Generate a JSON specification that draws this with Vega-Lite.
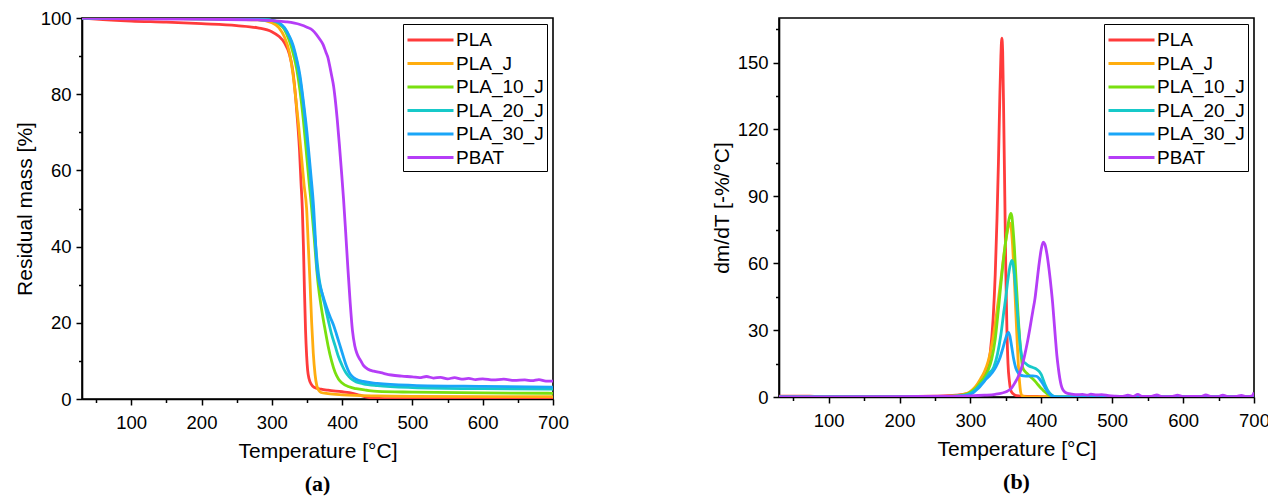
{
"$schema": "https://vega.github.io/schema/vega-lite/v6.json",
"background": "white",
"padding": {"left": 13, "top": 8, "right": 0, "bottom": 0},
"spacing": 140,
"resolve": {"legend": {"color": "independent"}},
"config": {
  "view": {"stroke": "black", "strokeWidth": 1.6},
  "axis": {"domainColor": "black", "domainWidth": 1.6, "tickColor": "black", "tickWidth": 1.5, "labelFont": "Liberation Sans", "labelFontSize": 18.5, "labelColor": "black", "titleFont": "Liberation Sans", "titleFontSize": 21, "titleFontWeight": "normal", "titleColor": "black", "grid": false, "labelPadding": 5, "titlePadding": 5, "labelOverlap": false},
  "axisX": {"labelPadding": 8, "titlePadding": 9, "labelFlush": false},
  "legend": {"labelFont": "Liberation Sans", "labelFontSize": 19, "labelColor": "black", "symbolType": "M-1,0H3", "symbolSize": 529, "symbolStrokeWidth": 3, "strokeColor": "black", "padding": 3, "rowPadding": 0.5, "labelOffset": 24, "offset": 6}
},
"datasets": {
"tga": [
{"s":"PLA","T":30,"m":100},{"s":"PLA","T":50,"m":99.7},{"s":"PLA","T":100,"m":99.2},{"s":"PLA","T":150,"m":98.9},{"s":"PLA","T":200,"m":98.5},{"s":"PLA","T":250,"m":98.0},{"s":"PLA","T":280,"m":97.4},{"s":"PLA","T":300,"m":96.4},{"s":"PLA","T":310,"m":95.2},{"s":"PLA","T":318,"m":93.5},{"s":"PLA","T":325,"m":90.5},{"s":"PLA","T":330,"m":86},{"s":"PLA","T":334,"m":79},{"s":"PLA","T":337,"m":72},{"s":"PLA","T":339.5,"m":65},{"s":"PLA","T":341.5,"m":57},{"s":"PLA","T":343.4,"m":50},{"s":"PLA","T":345,"m":40},{"s":"PLA","T":346.5,"m":28},{"s":"PLA","T":348,"m":18},{"s":"PLA","T":349.5,"m":11.5},{"s":"PLA","T":351,"m":7.5},{"s":"PLA","T":353,"m":5.3},{"s":"PLA","T":356,"m":3.9},{"s":"PLA","T":360,"m":3.1},{"s":"PLA","T":370,"m":2.6},{"s":"PLA","T":380,"m":2.3},{"s":"PLA","T":400,"m":1.9},{"s":"PLA","T":415,"m":1.5},{"s":"PLA","T":425,"m":1.0},{"s":"PLA","T":435,"m":0.5},{"s":"PLA","T":445,"m":0.2},{"s":"PLA","T":460,"m":0.1},{"s":"PLA","T":700,"m":0.1},
{"s":"PLA_J","T":30,"m":100},{"s":"PLA_J","T":100,"m":99.9},{"s":"PLA_J","T":200,"m":99.8},{"s":"PLA_J","T":280,"m":99.5},{"s":"PLA_J","T":300,"m":98.8},{"s":"PLA_J","T":310,"m":97.5},{"s":"PLA_J","T":318,"m":95},{"s":"PLA_J","T":325,"m":91},{"s":"PLA_J","T":330,"m":85.5},{"s":"PLA_J","T":334,"m":79},{"s":"PLA_J","T":338,"m":72},{"s":"PLA_J","T":342,"m":64},{"s":"PLA_J","T":346,"m":56},{"s":"PLA_J","T":349.5,"m":50},{"s":"PLA_J","T":352,"m":40},{"s":"PLA_J","T":354.5,"m":30},{"s":"PLA_J","T":356.7,"m":20},{"s":"PLA_J","T":359,"m":12},{"s":"PLA_J","T":361.5,"m":6.5},{"s":"PLA_J","T":364,"m":3.5},{"s":"PLA_J","T":367,"m":2.2},{"s":"PLA_J","T":370,"m":1.7},{"s":"PLA_J","T":380,"m":1.4},{"s":"PLA_J","T":400,"m":1.1},{"s":"PLA_J","T":450,"m":0.8},{"s":"PLA_J","T":500,"m":0.7},{"s":"PLA_J","T":700,"m":0.6},
{"s":"PLA_10_J","T":30,"m":100},{"s":"PLA_10_J","T":100,"m":99.9},{"s":"PLA_10_J","T":200,"m":99.8},{"s":"PLA_10_J","T":280,"m":99.6},{"s":"PLA_10_J","T":300,"m":99.3},{"s":"PLA_10_J","T":310,"m":98.5},{"s":"PLA_10_J","T":318,"m":97},{"s":"PLA_10_J","T":325,"m":94},{"s":"PLA_10_J","T":330,"m":91},{"s":"PLA_10_J","T":335,"m":87},{"s":"PLA_10_J","T":340,"m":81},{"s":"PLA_10_J","T":345,"m":73},{"s":"PLA_10_J","T":350,"m":63},{"s":"PLA_10_J","T":353.5,"m":56},{"s":"PLA_10_J","T":356.7,"m":50},{"s":"PLA_10_J","T":360,"m":43},{"s":"PLA_10_J","T":363,"m":36},{"s":"PLA_10_J","T":366,"m":30},{"s":"PLA_10_J","T":370,"m":24.5},{"s":"PLA_10_J","T":375,"m":19},{"s":"PLA_10_J","T":380,"m":14},{"s":"PLA_10_J","T":385,"m":10},{"s":"PLA_10_J","T":390,"m":7},{"s":"PLA_10_J","T":395,"m":5.2},{"s":"PLA_10_J","T":400,"m":4.2},{"s":"PLA_10_J","T":410,"m":3.2},{"s":"PLA_10_J","T":420,"m":2.7},{"s":"PLA_10_J","T":435,"m":2.3},{"s":"PLA_10_J","T":450,"m":2.0},{"s":"PLA_10_J","T":500,"m":1.8},{"s":"PLA_10_J","T":600,"m":1.6},{"s":"PLA_10_J","T":700,"m":1.5},
{"s":"PLA_20_J","T":30,"m":100},{"s":"PLA_20_J","T":100,"m":99.9},{"s":"PLA_20_J","T":200,"m":99.8},{"s":"PLA_20_J","T":280,"m":99.6},{"s":"PLA_20_J","T":300,"m":99.4},{"s":"PLA_20_J","T":310,"m":98.7},{"s":"PLA_20_J","T":318,"m":97.3},{"s":"PLA_20_J","T":325,"m":95},{"s":"PLA_20_J","T":330,"m":92.5},{"s":"PLA_20_J","T":335,"m":89},{"s":"PLA_20_J","T":340,"m":84},{"s":"PLA_20_J","T":345,"m":77},{"s":"PLA_20_J","T":350,"m":68},{"s":"PLA_20_J","T":354,"m":60},{"s":"PLA_20_J","T":358,"m":50},{"s":"PLA_20_J","T":361,"m":43},{"s":"PLA_20_J","T":364,"m":37},{"s":"PLA_20_J","T":367,"m":32},{"s":"PLA_20_J","T":371,"m":28},{"s":"PLA_20_J","T":375,"m":25},{"s":"PLA_20_J","T":380.5,"m":20.5},{"s":"PLA_20_J","T":385,"m":17},{"s":"PLA_20_J","T":390,"m":14},{"s":"PLA_20_J","T":395,"m":11},{"s":"PLA_20_J","T":400,"m":8.8},{"s":"PLA_20_J","T":405,"m":7},{"s":"PLA_20_J","T":410,"m":5.8},{"s":"PLA_20_J","T":415,"m":5.0},{"s":"PLA_20_J","T":420,"m":4.5},{"s":"PLA_20_J","T":430,"m":4.0},{"s":"PLA_20_J","T":450,"m":3.5},{"s":"PLA_20_J","T":500,"m":3.0},{"s":"PLA_20_J","T":600,"m":2.7},{"s":"PLA_20_J","T":700,"m":2.6},
{"s":"PLA_30_J","T":30,"m":100},{"s":"PLA_30_J","T":100,"m":99.9},{"s":"PLA_30_J","T":200,"m":99.8},{"s":"PLA_30_J","T":280,"m":99.6},{"s":"PLA_30_J","T":300,"m":99.4},{"s":"PLA_30_J","T":310,"m":98.8},{"s":"PLA_30_J","T":318,"m":97.5},{"s":"PLA_30_J","T":325,"m":95.2},{"s":"PLA_30_J","T":330,"m":93},{"s":"PLA_30_J","T":335,"m":89.5},{"s":"PLA_30_J","T":340,"m":85},{"s":"PLA_30_J","T":345,"m":78},{"s":"PLA_30_J","T":350,"m":70},{"s":"PLA_30_J","T":355,"m":60},{"s":"PLA_30_J","T":359.6,"m":50},{"s":"PLA_30_J","T":362,"m":42},{"s":"PLA_30_J","T":364,"m":35},{"s":"PLA_30_J","T":367,"m":31},{"s":"PLA_30_J","T":372,"m":27.5},{"s":"PLA_30_J","T":378,"m":24},{"s":"PLA_30_J","T":383,"m":21.5},{"s":"PLA_30_J","T":387.6,"m":19.5},{"s":"PLA_30_J","T":392,"m":17},{"s":"PLA_30_J","T":397,"m":14},{"s":"PLA_30_J","T":402,"m":11},{"s":"PLA_30_J","T":406,"m":8.7},{"s":"PLA_30_J","T":410,"m":7.0},{"s":"PLA_30_J","T":414,"m":6.0},{"s":"PLA_30_J","T":420,"m":5.2},{"s":"PLA_30_J","T":430,"m":4.6},{"s":"PLA_30_J","T":450,"m":4.1},{"s":"PLA_30_J","T":500,"m":3.6},{"s":"PLA_30_J","T":600,"m":3.3},{"s":"PLA_30_J","T":700,"m":3.1},
{"s":"PBAT","T":30,"m":100},{"s":"PBAT","T":100,"m":99.8},{"s":"PBAT","T":200,"m":99.7},{"s":"PBAT","T":280,"m":99.5},{"s":"PBAT","T":300,"m":99.3},{"s":"PBAT","T":320,"m":99},{"s":"PBAT","T":340,"m":98.3},{"s":"PBAT","T":350,"m":97.6},{"s":"PBAT","T":358,"m":96.8},{"s":"PBAT","T":363,"m":95.8},{"s":"PBAT","T":368,"m":94.5},{"s":"PBAT","T":373,"m":93},{"s":"PBAT","T":377,"m":91},{"s":"PBAT","T":380,"m":89.5},{"s":"PBAT","T":382,"m":87.8},{"s":"PBAT","T":385,"m":85},{"s":"PBAT","T":388,"m":82},{"s":"PBAT","T":390,"m":79},{"s":"PBAT","T":393,"m":73.5},{"s":"PBAT","T":396,"m":67},{"s":"PBAT","T":399,"m":60},{"s":"PBAT","T":402,"m":52.6},{"s":"PBAT","T":405,"m":44},{"s":"PBAT","T":408,"m":35},{"s":"PBAT","T":411.4,"m":25.5},{"s":"PBAT","T":414.7,"m":18},{"s":"PBAT","T":418,"m":14},{"s":"PBAT","T":421,"m":12},{"s":"PBAT","T":424,"m":10.8},{"s":"PBAT","T":426,"m":10.2},{"s":"PBAT","T":430,"m":8.9},{"s":"PBAT","T":437,"m":7.8},{"s":"PBAT","T":445,"m":7.3},{"s":"PBAT","T":455,"m":6.9},{"s":"PBAT","T":470,"m":6.3},{"s":"PBAT","T":485,"m":6.0},{"s":"PBAT","T":500,"m":5.8},{"s":"PBAT","T":510,"m":5.6},{"s":"PBAT","T":520,"m":5.9},{"s":"PBAT","T":530,"m":5.5},{"s":"PBAT","T":540,"m":5.7},{"s":"PBAT","T":550,"m":5.3},{"s":"PBAT","T":560,"m":5.6},{"s":"PBAT","T":570,"m":5.2},{"s":"PBAT","T":580,"m":5.4},{"s":"PBAT","T":590,"m":5.1},{"s":"PBAT","T":600,"m":5.3},{"s":"PBAT","T":615,"m":5.0},{"s":"PBAT","T":630,"m":5.2},{"s":"PBAT","T":645,"m":4.9},{"s":"PBAT","T":660,"m":5.0},{"s":"PBAT","T":670,"m":4.8},{"s":"PBAT","T":680,"m":5.1},{"s":"PBAT","T":690,"m":4.7},{"s":"PBAT","T":700,"m":4.7}
],
"dtg": [
{"s":"PLA","T":30,"d":0.4},{"s":"PLA","T":60,"d":0.4},{"s":"PLA","T":80,"d":0.3},{"s":"PLA","T":100,"d":0.2},{"s":"PLA","T":200,"d":0.2},{"s":"PLA","T":250,"d":0.4},{"s":"PLA","T":280,"d":0.8},{"s":"PLA","T":295,"d":1.5},{"s":"PLA","T":305,"d":3},{"s":"PLA","T":312,"d":5},{"s":"PLA","T":318,"d":8},{"s":"PLA","T":323,"d":12},{"s":"PLA","T":328,"d":20},{"s":"PLA","T":332,"d":35},{"s":"PLA","T":335,"d":55},{"s":"PLA","T":337.5,"d":80},{"s":"PLA","T":339.5,"d":105},{"s":"PLA","T":341.5,"d":135},{"s":"PLA","T":343,"d":153},{"s":"PLA","T":344.3,"d":161},{"s":"PLA","T":345.5,"d":155},{"s":"PLA","T":347,"d":125},{"s":"PLA","T":348.5,"d":90},{"s":"PLA","T":350,"d":55},{"s":"PLA","T":351.5,"d":30},{"s":"PLA","T":353,"d":15},{"s":"PLA","T":355,"d":7},{"s":"PLA","T":357,"d":3},{"s":"PLA","T":360,"d":1.5},{"s":"PLA","T":365,"d":0.6},{"s":"PLA","T":380,"d":0.3},{"s":"PLA","T":400,"d":0.2},{"s":"PLA","T":430,"d":0.1},{"s":"PLA","T":700,"d":0},
{"s":"PLA_J","T":30,"d":0},{"s":"PLA_J","T":250,"d":0.2},{"s":"PLA_J","T":280,"d":0.6},{"s":"PLA_J","T":295,"d":1.5},{"s":"PLA_J","T":302,"d":3},{"s":"PLA_J","T":308,"d":5},{"s":"PLA_J","T":314,"d":8},{"s":"PLA_J","T":320,"d":11.5},{"s":"PLA_J","T":325,"d":16},{"s":"PLA_J","T":330,"d":23},{"s":"PLA_J","T":335,"d":33},{"s":"PLA_J","T":340,"d":45},{"s":"PLA_J","T":345,"d":58},{"s":"PLA_J","T":349,"d":68},{"s":"PLA_J","T":352,"d":74},{"s":"PLA_J","T":354.5,"d":77.5},{"s":"PLA_J","T":356,"d":78},{"s":"PLA_J","T":357.5,"d":76},{"s":"PLA_J","T":359.5,"d":68},{"s":"PLA_J","T":361.5,"d":56},{"s":"PLA_J","T":363.5,"d":42},{"s":"PLA_J","T":365.5,"d":28},{"s":"PLA_J","T":367.5,"d":15},{"s":"PLA_J","T":369.5,"d":6},{"s":"PLA_J","T":371,"d":2},{"s":"PLA_J","T":373,"d":0.5},{"s":"PLA_J","T":380,"d":0},{"s":"PLA_J","T":700,"d":0},
{"s":"PLA_10_J","T":30,"d":0},{"s":"PLA_10_J","T":250,"d":0.2},{"s":"PLA_10_J","T":280,"d":0.5},{"s":"PLA_10_J","T":295,"d":1.3},{"s":"PLA_10_J","T":302,"d":2.5},{"s":"PLA_10_J","T":308,"d":4},{"s":"PLA_10_J","T":314,"d":6.5},{"s":"PLA_10_J","T":320,"d":9},{"s":"PLA_10_J","T":325,"d":12},{"s":"PLA_10_J","T":330,"d":17},{"s":"PLA_10_J","T":335,"d":26},{"s":"PLA_10_J","T":340,"d":41},{"s":"PLA_10_J","T":345,"d":57},{"s":"PLA_10_J","T":349,"d":68},{"s":"PLA_10_J","T":352,"d":75},{"s":"PLA_10_J","T":355,"d":80.5},{"s":"PLA_10_J","T":357,"d":82.4},{"s":"PLA_10_J","T":358.5,"d":81},{"s":"PLA_10_J","T":360,"d":76},{"s":"PLA_10_J","T":362,"d":67},{"s":"PLA_10_J","T":364,"d":55},{"s":"PLA_10_J","T":366,"d":44},{"s":"PLA_10_J","T":368,"d":33},{"s":"PLA_10_J","T":370,"d":24},{"s":"PLA_10_J","T":372,"d":17},{"s":"PLA_10_J","T":374,"d":13},{"s":"PLA_10_J","T":377,"d":11.5},{"s":"PLA_10_J","T":380,"d":10.5},{"s":"PLA_10_J","T":385,"d":9},{"s":"PLA_10_J","T":390,"d":7.5},{"s":"PLA_10_J","T":394,"d":6},{"s":"PLA_10_J","T":398,"d":4.5},{"s":"PLA_10_J","T":402,"d":3.2},{"s":"PLA_10_J","T":406,"d":2},{"s":"PLA_10_J","T":410,"d":1},{"s":"PLA_10_J","T":414,"d":0.4},{"s":"PLA_10_J","T":420,"d":0},{"s":"PLA_10_J","T":700,"d":0},
{"s":"PLA_20_J","T":30,"d":0},{"s":"PLA_20_J","T":250,"d":0.1},{"s":"PLA_20_J","T":280,"d":0.4},{"s":"PLA_20_J","T":295,"d":1},{"s":"PLA_20_J","T":302,"d":2},{"s":"PLA_20_J","T":308,"d":3.5},{"s":"PLA_20_J","T":314,"d":5.5},{"s":"PLA_20_J","T":320,"d":7.5},{"s":"PLA_20_J","T":326,"d":10.5},{"s":"PLA_20_J","T":333,"d":13.5},{"s":"PLA_20_J","T":338,"d":19},{"s":"PLA_20_J","T":343,"d":28},{"s":"PLA_20_J","T":347,"d":38},{"s":"PLA_20_J","T":350,"d":45},{"s":"PLA_20_J","T":353,"d":53},{"s":"PLA_20_J","T":356,"d":59},{"s":"PLA_20_J","T":358.4,"d":61.3},{"s":"PLA_20_J","T":360,"d":60},{"s":"PLA_20_J","T":362,"d":55},{"s":"PLA_20_J","T":364,"d":47},{"s":"PLA_20_J","T":366,"d":39},{"s":"PLA_20_J","T":368,"d":31},{"s":"PLA_20_J","T":370,"d":24},{"s":"PLA_20_J","T":372,"d":19},{"s":"PLA_20_J","T":375,"d":16},{"s":"PLA_20_J","T":378,"d":15},{"s":"PLA_20_J","T":382,"d":14},{"s":"PLA_20_J","T":386,"d":13.5},{"s":"PLA_20_J","T":390,"d":13},{"s":"PLA_20_J","T":394,"d":12.3},{"s":"PLA_20_J","T":397,"d":11.5},{"s":"PLA_20_J","T":400,"d":10},{"s":"PLA_20_J","T":403,"d":7.5},{"s":"PLA_20_J","T":406,"d":5},{"s":"PLA_20_J","T":409,"d":3},{"s":"PLA_20_J","T":412,"d":1.7},{"s":"PLA_20_J","T":416,"d":0.6},{"s":"PLA_20_J","T":420,"d":0.2},{"s":"PLA_20_J","T":430,"d":0},{"s":"PLA_20_J","T":700,"d":0},
{"s":"PLA_30_J","T":30,"d":0},{"s":"PLA_30_J","T":250,"d":0.1},{"s":"PLA_30_J","T":280,"d":0.3},{"s":"PLA_30_J","T":295,"d":0.8},{"s":"PLA_30_J","T":302,"d":1.5},{"s":"PLA_30_J","T":308,"d":3},{"s":"PLA_30_J","T":313,"d":4.5},{"s":"PLA_30_J","T":317,"d":6},{"s":"PLA_30_J","T":322,"d":8},{"s":"PLA_30_J","T":327,"d":9.5},{"s":"PLA_30_J","T":331,"d":11},{"s":"PLA_30_J","T":336,"d":13.5},{"s":"PLA_30_J","T":341,"d":17},{"s":"PLA_30_J","T":345,"d":21},{"s":"PLA_30_J","T":349,"d":25.5},{"s":"PLA_30_J","T":352,"d":28.3},{"s":"PLA_30_J","T":353.7,"d":29},{"s":"PLA_30_J","T":355.5,"d":27.5},{"s":"PLA_30_J","T":358,"d":23},{"s":"PLA_30_J","T":361,"d":17},{"s":"PLA_30_J","T":364,"d":13},{"s":"PLA_30_J","T":367,"d":11},{"s":"PLA_30_J","T":370,"d":10},{"s":"PLA_30_J","T":375,"d":9.5},{"s":"PLA_30_J","T":382,"d":9.4},{"s":"PLA_30_J","T":388,"d":9.5},{"s":"PLA_30_J","T":393,"d":9.3},{"s":"PLA_30_J","T":397,"d":8.3},{"s":"PLA_30_J","T":400,"d":7},{"s":"PLA_30_J","T":403,"d":5.5},{"s":"PLA_30_J","T":406,"d":3.8},{"s":"PLA_30_J","T":409,"d":2.3},{"s":"PLA_30_J","T":412,"d":1.2},{"s":"PLA_30_J","T":416,"d":0.4},{"s":"PLA_30_J","T":425,"d":0},{"s":"PLA_30_J","T":700,"d":0},
{"s":"PBAT","T":30,"d":0},{"s":"PBAT","T":100,"d":0.1},{"s":"PBAT","T":200,"d":0.2},{"s":"PBAT","T":280,"d":0.4},{"s":"PBAT","T":300,"d":0.5},{"s":"PBAT","T":320,"d":0.8},{"s":"PBAT","T":335,"d":1.2},{"s":"PBAT","T":345,"d":1.8},{"s":"PBAT","T":352,"d":2.6},{"s":"PBAT","T":358,"d":4},{"s":"PBAT","T":363,"d":6.5},{"s":"PBAT","T":368,"d":9.5},{"s":"PBAT","T":372,"d":13},{"s":"PBAT","T":376,"d":18},{"s":"PBAT","T":380,"d":24},{"s":"PBAT","T":384,"d":31},{"s":"PBAT","T":388,"d":38.5},{"s":"PBAT","T":391,"d":44},{"s":"PBAT","T":394,"d":52},{"s":"PBAT","T":397,"d":60},{"s":"PBAT","T":400,"d":66.5},{"s":"PBAT","T":402.7,"d":69.5},{"s":"PBAT","T":405,"d":68.5},{"s":"PBAT","T":408,"d":64},{"s":"PBAT","T":411,"d":57},{"s":"PBAT","T":414,"d":48.5},{"s":"PBAT","T":416,"d":42},{"s":"PBAT","T":418,"d":34},{"s":"PBAT","T":420,"d":26},{"s":"PBAT","T":422,"d":18.5},{"s":"PBAT","T":424,"d":13},{"s":"PBAT","T":426,"d":8.5},{"s":"PBAT","T":428,"d":5.3},{"s":"PBAT","T":430,"d":3.5},{"s":"PBAT","T":433,"d":2.3},{"s":"PBAT","T":437,"d":1.6},{"s":"PBAT","T":443,"d":1.3},{"s":"PBAT","T":450,"d":1.0},{"s":"PBAT","T":458,"d":1.2},{"s":"PBAT","T":465,"d":0.8},{"s":"PBAT","T":470,"d":1.3},{"s":"PBAT","T":478,"d":0.9},{"s":"PBAT","T":485,"d":1.1},{"s":"PBAT","T":495,"d":0.6},{"s":"PBAT","T":505,"d":0.4},{"s":"PBAT","T":515,"d":0.3},{"s":"PBAT","T":522,"d":0.8},{"s":"PBAT","T":530,"d":0.3},{"s":"PBAT","T":536,"d":1.2},{"s":"PBAT","T":542,"d":0.3},{"s":"PBAT","T":555,"d":0.3},{"s":"PBAT","T":563,"d":0.9},{"s":"PBAT","T":570,"d":0.2},{"s":"PBAT","T":585,"d":0.3},{"s":"PBAT","T":592,"d":0.8},{"s":"PBAT","T":600,"d":0.2},{"s":"PBAT","T":615,"d":0.3},{"s":"PBAT","T":625,"d":0.2},{"s":"PBAT","T":632,"d":0.9},{"s":"PBAT","T":640,"d":0.2},{"s":"PBAT","T":650,"d":0.2},{"s":"PBAT","T":656,"d":0.8},{"s":"PBAT","T":663,"d":0.2},{"s":"PBAT","T":676,"d":0.3},{"s":"PBAT","T":682,"d":0.7},{"s":"PBAT","T":690,"d":0.2},{"s":"PBAT","T":697,"d":0.4},{"s":"PBAT","T":700,"d":2.0}
]
},
"hconcat": [
{
  "width": 471, "height": 381,
  "data": {"name": "tga"},
  "title": {"text": "(a)", "orient": "bottom", "font": "Liberation Serif", "fontSize": 22, "fontWeight": "bold", "color": "black", "offset": 12, "frame": "group", "anchor": "middle"},
  "mark": {"type": "line", "strokeWidth": 2.8, "interpolate": "monotone", "clip": true},
  "encoding": {
    "x": {"field": "T", "type": "quantitative", "scale": {"domain": [30, 700], "nice": false, "zero": false},
      "axis": {"title": "Temperature [°C]", "values": [50,100,150,200,250,300,350,400,450,500,550,600,650,700], "labelExpr": "datum.value % 100 === 0 ? datum.label : ''", "tickSize": {"condition": {"test": "datum.value % 100 !== 0", "value": 3.5}, "value": 6}}},
    "y": {"field": "m", "type": "quantitative", "scale": {"domain": [0, 100], "nice": false},
      "axis": {"title": "Residual mass [%]", "values": [0,10,20,30,40,50,60,70,80,90,100], "labelExpr": "datum.value % 20 === 0 ? datum.label : ''", "tickSize": {"condition": {"test": "datum.value % 20 !== 0", "value": 3.5}, "value": 6}}},
    "color": {"field": "s", "type": "nominal", "sort": null,
      "scale": {"domain": ["PLA","PLA_J","PLA_10_J","PLA_20_J","PLA_30_J","PBAT"], "range": ["#ff3b3b","#ffad0f","#79e00f","#17c9c9","#1aa6f8","#b53df7"]},
      "legend": {"title": null, "orient": "top-right"}}
  }
},
{
  "width": 475, "height": 379,
  "data": {"name": "dtg"},
  "title": {"text": "(b)", "orient": "bottom", "font": "Liberation Serif", "fontSize": 22, "fontWeight": "bold", "color": "black", "offset": 12, "frame": "group", "anchor": "middle"},
  "mark": {"type": "line", "strokeWidth": 2.8, "interpolate": "monotone", "clip": true},
  "encoding": {
    "x": {"field": "T", "type": "quantitative", "scale": {"domain": [30, 700], "nice": false, "zero": false},
      "axis": {"title": "Temperature [°C]", "values": [50,100,150,200,250,300,350,400,450,500,550,600,650,700], "labelExpr": "datum.value % 100 === 0 ? datum.label : ''", "tickSize": {"condition": {"test": "datum.value % 100 !== 0", "value": 3.5}, "value": 6}}},
    "y": {"field": "d", "type": "quantitative", "scale": {"domain": [0, 170], "nice": false},
      "axis": {"title": "dm/dT [-%/°C]", "values": [0,15,30,45,60,75,90,105,120,135,150,165], "labelExpr": "datum.value % 30 === 0 ? datum.label : ''", "tickSize": {"condition": {"test": "datum.value % 30 !== 0", "value": 3.5}, "value": 6}}},
    "color": {"field": "s", "type": "nominal", "sort": null,
      "scale": {"domain": ["PLA","PLA_J","PLA_10_J","PLA_20_J","PLA_30_J","PBAT"], "range": ["#ff3b3b","#ffad0f","#79e00f","#17c9c9","#1aa6f8","#b53df7"]},
      "legend": {"title": null, "orient": "top-right"}}
  }
}
]
}
